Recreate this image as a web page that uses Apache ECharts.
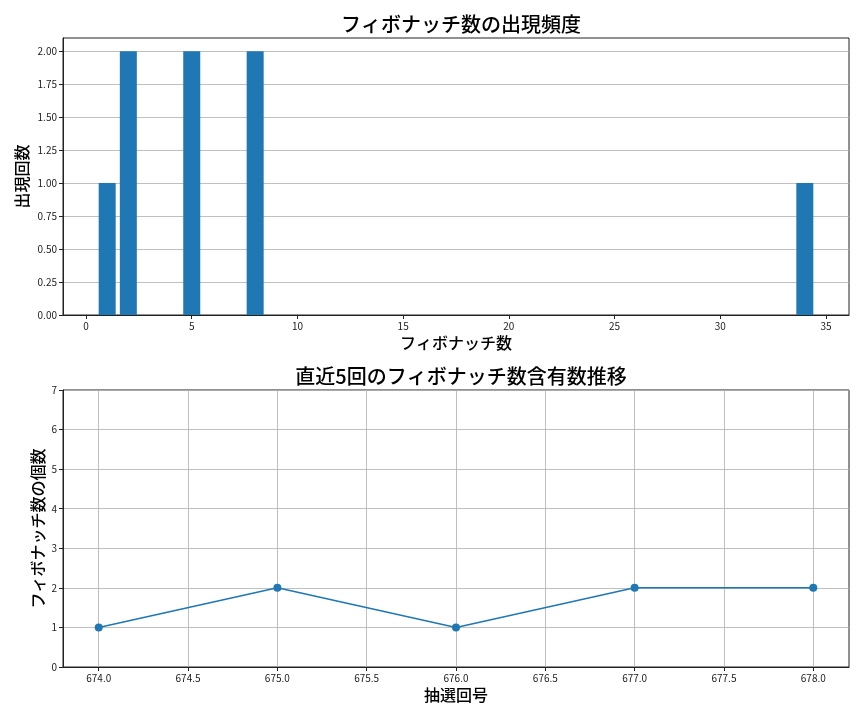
<!DOCTYPE html>
<html>
<head>
<meta charset="utf-8" />
<title>フィボナッチ数</title>
<script type="text/javascript" src="https://cdn.jsdelivr.net/npm/echarts@6/dist/echarts.min.js"></script>
<style type="text/css">
	html, body { margin: 0; padding: 0; background: #fff; }
	#main { width: 864px; height: 720px; }
</style>
</head>
<body>
<div id="main"></div>
<script type="text/javascript">
// 上段：フィボナッチ数の出現頻度
var fibNumbers = [1, 2, 5, 8, 34];
var fibCounts = [1, 2, 2, 2, 1];
var freqXTicks = [0, 5, 10, 15, 20, 25, 30, 35];
var freqYTicks = [0, 0.25, 0.5, 0.75, 1, 1.25, 1.5, 1.75, 2];

// 下段：直近5回の推移
var drawNumbers = [674, 675, 676, 677, 678];
var fibPerDraw = [1, 2, 1, 2, 2];
var drawXTicks = [674, 674.5, 675, 675.5, 676, 676.5, 677, 677.5, 678];

var font = '"Noto Sans CJK JP", "Noto Sans", sans-serif';
var blue = '#1f77b4';
var gridColor = '#b0b0b0';

var axisCommon = {
	axisLine: { show: true, onZero: false, lineStyle: { color: '#222', width: 1 } },
	axisTick: { show: true, inside: false, length: 4, lineStyle: { color: '#222' } },
	axisLabel: { color: '#222', fontSize: 10, fontFamily: font, margin: 6 },
	nameLocation: 'middle',
	nameMoveOverlap: false,
	nameTextStyle: { color: '#000', fontSize: 16, fontWeight: 500, fontFamily: font }
};
function ax(extra) {
	var o = JSON.parse(JSON.stringify(axisCommon));
	for (var k in extra) {
		if (typeof extra[k] === 'object' && o[k] && !Array.isArray(extra[k])) {
			for (var j in extra[k]) o[k][j] = extra[k][j];
		} else {
			o[k] = extra[k];
		}
	}
	return o;
}

var barData = fibNumbers.map(function (n, i) { return [n, fibCounts[i]]; });
var lineData = drawNumbers.map(function (n, i) { return [n, fibPerDraw[i]]; });

var myChart = echarts.init(document.getElementById('main'));
var option = {
	animation: false,
	backgroundColor: '#fff',
	title: [
		{ text: 'フィボナッチ数の出現頻度', left: 456, top: 9, textAlign: 'center',
		  textStyle: { fontSize: 20, fontWeight: 500, color: '#000', fontFamily: font } },
		{ text: '直近5回のフィボナッチ数含有数推移', left: 456, top: 361, textAlign: 'center',
		  textStyle: { fontSize: 20, fontWeight: 500, color: '#000', fontFamily: font } }
	],
	grid: [
		{ left: 63, right: 15, top: 38, height: 277, show: true, borderColor: '#222', borderWidth: 1 },
		{ left: 63, right: 15, top: 390, height: 277, show: true, borderColor: '#222', borderWidth: 1 }
	],
	xAxis: [
		ax({
			type: 'value', gridIndex: 0, min: -1.09, max: 36.09,
			name: 'フィボナッチ数', nameGap: 20,
			axisTick: { customValues: freqXTicks },
			axisLabel: { customValues: freqXTicks },
			splitLine: { show: false }
		}),
		ax({
			type: 'value', gridIndex: 1, min: 673.8, max: 678.2,
			name: '抽選回号', nameGap: 20,
			axisTick: { customValues: drawXTicks },
			axisLabel: { customValues: drawXTicks, formatter: function (v) { return v.toFixed(1); } },
			splitLine: { show: true, lineStyle: { color: gridColor, width: 0.8 } }
		})
	],
	yAxis: [
		ax({
			type: 'value', gridIndex: 0, min: 0, max: 2.1,
			name: '出現回数', nameGap: 33,
			axisTick: { customValues: freqYTicks },
			axisLabel: { customValues: freqYTicks, formatter: function (v) { return v.toFixed(2); } },
			splitLine: { show: true, lineStyle: { color: gridColor, width: 0.8 } }
		}),
		ax({
			type: 'value', gridIndex: 1, min: 0, max: 7, interval: 1,
			name: 'フィボナッチ数の個数', nameGap: 17,
			splitLine: { show: true, lineStyle: { color: gridColor, width: 0.8 } }
		})
	],
	series: [
		{
			type: 'bar', xAxisIndex: 0, yAxisIndex: 0,
			data: barData, barWidth: 17,
			itemStyle: { color: blue }
		},
		{
			type: 'line', xAxisIndex: 1, yAxisIndex: 1,
			data: lineData, symbol: 'circle', symbolSize: 8, showSymbol: true,
			lineStyle: { color: blue, width: 1.5 },
			itemStyle: { color: blue }
		}
	]
};
myChart.setOption(option);
</script>
</body>
</html>
